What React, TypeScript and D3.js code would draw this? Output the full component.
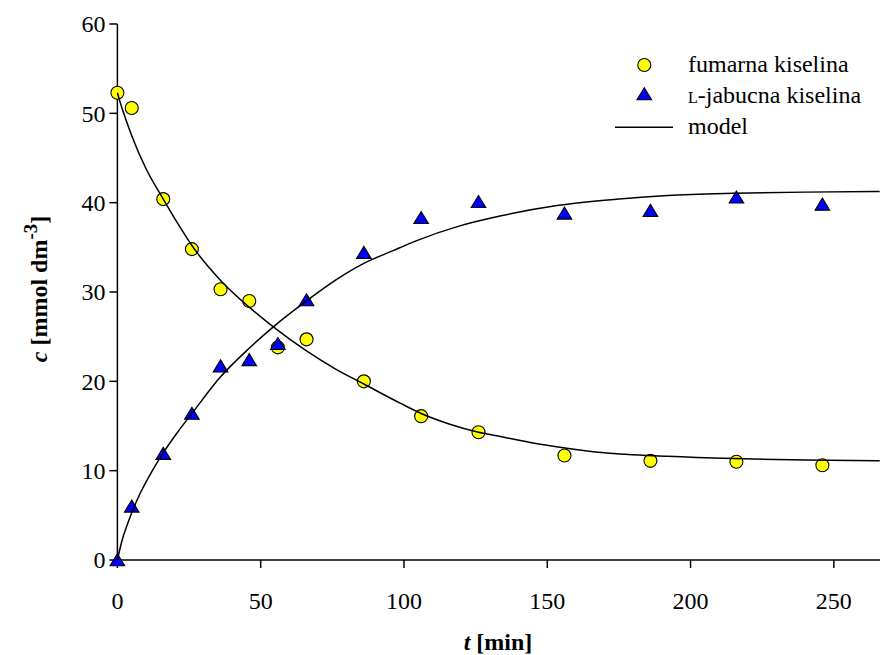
import React from "react";
import * as d3 from "d3";

const times = [0, 5, 16, 26, 36, 46, 56, 66, 86, 106, 126, 156, 186, 216, 246];
const fumaric = [52.3, 50.6, 40.4, 34.8, 30.3, 29.0, 23.8, 24.7, 20.0, 16.1, 14.3, 11.7, 11.1, 11.0, 10.6];
const malic = [0, 6.0, 11.9, 16.4, 21.7, 22.4, 24.2, 29.1, 34.4, 38.3, 40.1, 38.8, 39.1, 40.6, 39.8];

const fumModelT = [0, 1, 2, 5, 10, 16, 21, 26, 36, 46, 54.4, 66, 76, 86, 99, 106, 116, 126, 134, 145, 155, 170, 192, 215, 240, 266];
const fumModelC = [52.3, 51.2, 50.2, 47.5, 43.8, 40.4, 37.7, 35.2, 31.3, 28.3, 26.1, 23.4, 21.4, 19.7, 17.5, 16.4, 15.2, 14.3, 13.8, 13.1, 12.6, 12.0, 11.6, 11.35, 11.2, 11.1];

const malModelT = [0, 1, 2, 3.5, 5, 8, 12, 16, 21, 26, 36, 46, 54.4, 66, 76, 86, 96, 104, 119.5, 133.5, 154, 175, 192, 215, 240, 266];
const malModelC = [0, 1.4, 2.6, 4.0, 5.3, 7.5, 9.9, 12.0, 14.3, 16.4, 20.5, 23.7, 26.1, 29.0, 31.3, 33.2, 34.6, 35.7, 37.4, 38.5, 39.7, 40.4, 40.8, 41.05, 41.18, 41.24];

const xTicks = [0, 50, 100, 150, 200, 250];
const yTicks = [0, 10, 20, 30, 40, 50, 60];

const FONT = "Liberation Serif, Times New Roman, Times, serif";

export default function App() {
  const W = 880, H = 655;
  const x = d3.scaleLinear().domain([0, 266]).range([117.4, 879.7]);
  const y = d3.scaleLinear().domain([0, 60]).range([560, 24]);

  const line = d3
    .line<[number, number]>()
    .x((d) => x(d[0]))
    .y((d) => y(d[1]))
    .curve(d3.curveMonotoneX);

  const fumPath = line(fumModelT.map((t, i) => [t, fumModelC[i]]) as [number, number][]);
  const malPath = line(malModelT.map((t, i) => [t, malModelC[i]]) as [number, number][]);

  const tri = (cx: number, cy: number) =>
    `M${cx},${cy - 6.3}L${cx + 7.3},${cy + 5.7}L${cx - 7.3},${cy + 5.7}Z`;

  const fs = 24;

  return (
    <svg
      width={W}
      height={H}
      style={{ position: "absolute", left: 0, top: 0, background: "#fff", fontFamily: FONT }}
    >
      {/* axes */}
      <line x1={x(0)} x2={x(0)} y1={y(60)} y2={y(0)} stroke="#000" strokeWidth={1.5} />
      <line x1={x(0)} x2={880} y1={y(0)} y2={y(0)} stroke="#000" strokeWidth={1.5} />
      {yTicks.map((v) => (
        <g key={"y" + v}>
          <line x1={x(0) - 8} x2={x(0)} y1={y(v)} y2={y(v)} stroke="#000" strokeWidth={1.5} />
          <text x={x(0) - 12} y={y(v)} dy="0.35em" textAnchor="end" fontSize={fs} style={{ fontFamily: FONT }}>
            {v}
          </text>
        </g>
      ))}
      {xTicks.map((v) => (
        <g key={"x" + v}>
          <line x1={x(v)} x2={x(v)} y1={y(0)} y2={y(0) + 8} stroke="#000" strokeWidth={1.5} />
          <text x={x(v)} y={609} textAnchor="middle" fontSize={fs} style={{ fontFamily: FONT }}>
            {v}
          </text>
        </g>
      ))}

      {/* axis titles */}
      <text x={498} y={650} textAnchor="middle" fontSize={fs} fontWeight="bold" style={{ fontFamily: FONT }}>
        <tspan fontStyle="italic">t</tspan> [min]
      </text>
      <text
        transform="translate(47,289) rotate(-90)"
        textAnchor="middle"
        fontSize={fs}
        fontWeight="bold"
        style={{ fontFamily: FONT }}
      >
        <tspan fontStyle="italic">c</tspan> [mmol dm
        <tspan dy={-10} fontSize={19}>-3</tspan>
        <tspan dy={10}>]</tspan>
      </text>

      {/* data markers */}
      {times.map((t, i) => (
        <circle key={"f" + i} cx={x(t)} cy={y(fumaric[i])} r={6.5} fill="#ffff00" stroke="#000" strokeWidth={1.1} />
      ))}
      {times.map((t, i) => (
        <path key={"m" + i} d={tri(x(t), y(malic[i]))} fill="#0000ff" stroke="#000" strokeWidth={1.1} />
      ))}

      {/* model curves */}
      <path d={fumPath || ""} fill="none" stroke="#000" strokeWidth={1.5} />
      <path d={malPath || ""} fill="none" stroke="#000" strokeWidth={1.5} />

      {/* legend */}
      <circle cx={644.3} cy={65} r={6.5} fill="#ffff00" stroke="#000" strokeWidth={1.1} />
      <text x={688} y={72} fontSize={fs} style={{ fontFamily: FONT }}>fumarna kiselina</text>
      <path d={tri(644.3, 94)} fill="#0000ff" stroke="#000" strokeWidth={1.1} />
      <text x={688} y={103} fontSize={fs} style={{ fontFamily: FONT }}>
        <tspan fontSize={16}>L</tspan>-jabucna kiselina
      </text>
      <line x1={615} x2={673} y1={127.3} y2={127.3} stroke="#000" strokeWidth={1.5} />
      <text x={688} y={134} fontSize={fs} style={{ fontFamily: FONT }}>model</text>
    </svg>
  );
}
